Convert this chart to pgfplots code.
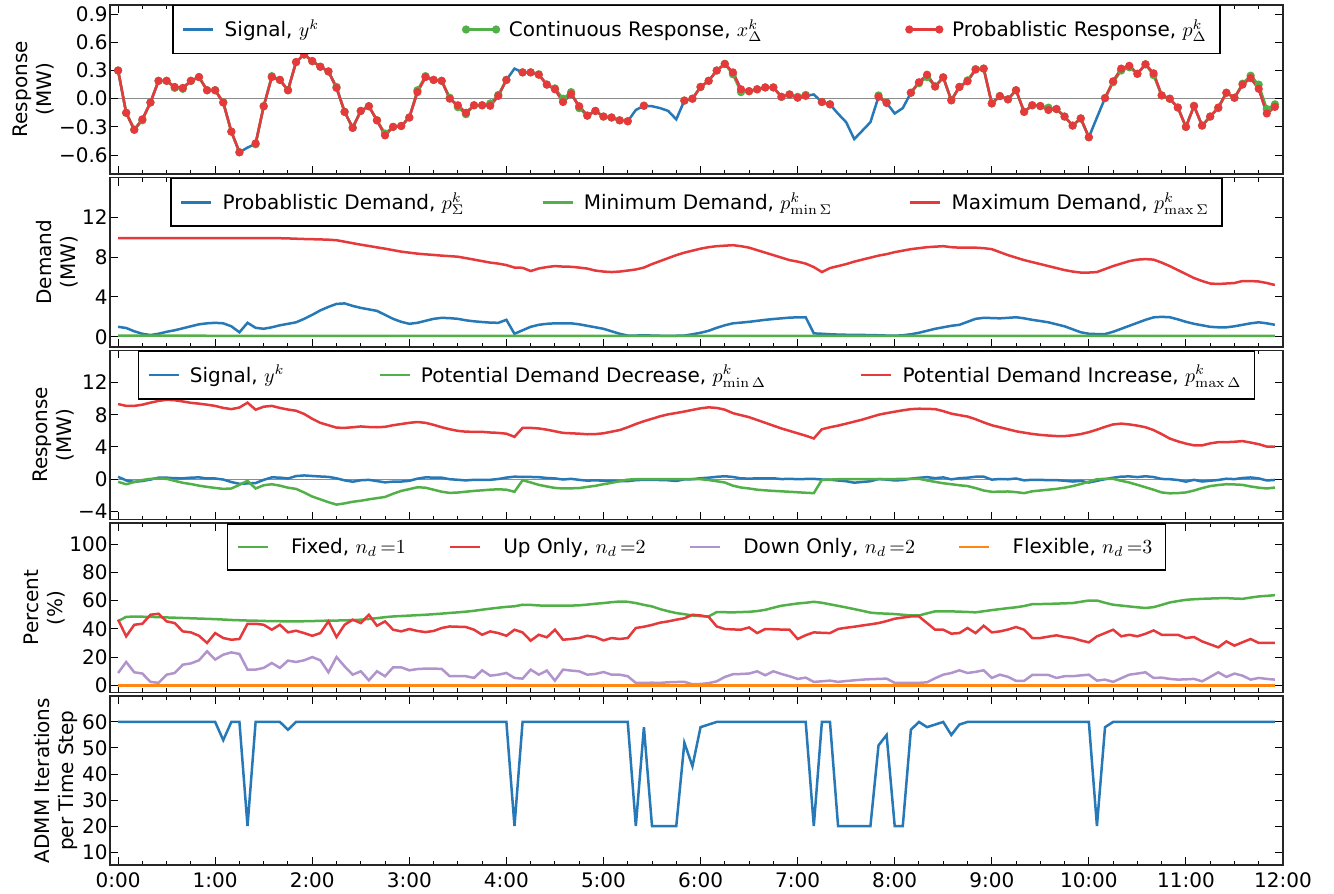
\documentclass[border=0pt]{standalone}
\usepackage[no-math]{fontspec}
\setmainfont{DejaVu Sans}
\usepackage{pgfplots}
\usepackage{pgfplotstable}
\pgfplotsset{compat=1.18}
\definecolor{cblue}{RGB}{38,120,182}
\definecolor{cgreen}{RGB}{82,176,72}
\definecolor{cred}{RGB}{229,57,59}
\definecolor{cpurple}{RGB}{178,148,205}
\definecolor{corange}{RGB}{255,135,20}

\pgfplotstableread{
k sig cont prob
0 0.30 0.30 0.30
1 -0.15 -0.15 -0.15
2 -0.33 -0.33 -0.33
3 -0.22 -0.23 -0.22
4 -0.04 -0.04 -0.04
5 0.19 0.19 0.19
6 0.19 0.19 0.19
7 0.125 0.115 0.125
8 0.115 0.105 0.115
9 0.19 0.19 0.19
10 0.23 0.23 0.23
11 0.09 0.09 0.09
12 0.09 0.09 0.09
13 -0.04 -0.04 -0.04
14 -0.35 -0.35 -0.35
15 -0.57 -0.57 -0.57
16 -0.52 nan nan
17 -0.48 -0.485 -0.475
18 -0.08 -0.08 -0.08
19 0.23 0.24 0.23
20 0.20 0.20 0.20
21 0.09 0.09 0.09
22 0.39 0.39 0.39
23 0.47 0.47 0.47
24 0.40 0.40 0.40
25 0.34 0.34 0.34
26 0.29 0.29 0.29
27 0.115 0.125 0.115
28 -0.14 -0.14 -0.14
29 -0.31 -0.31 -0.31
30 -0.13 -0.13 -0.13
31 -0.08 -0.08 -0.08
32 -0.23 -0.23 -0.23
33 -0.39 -0.37 -0.39
34 -0.30 -0.30 -0.30
35 -0.29 -0.29 -0.29
36 -0.20 -0.20 -0.20
37 0.07 0.09 0.07
38 0.23 0.24 0.23
39 0.20 0.20 0.20
40 0.19 0.19 0.19
41 0.00 0.01 0.00
42 -0.07 -0.09 -0.07
43 -0.15 -0.165 -0.15
44 -0.07 -0.07 -0.07
45 -0.07 -0.07 -0.07
46 -0.075 -0.05 -0.075
47 0.03 0.04 0.03
48 0.20 0.20 0.20
49 0.32 nan nan
50 0.28 0.28 0.28
51 0.28 0.28 0.28
52 0.255 0.26 0.255
53 0.15 0.15 0.15
54 0.10 0.11 0.10
55 -0.035 0.0 -0.035
56 0.05 0.07 0.05
57 -0.08 -0.10 -0.08
58 -0.18 -0.18 -0.18
59 -0.13 -0.13 -0.13
60 -0.19 -0.19 -0.19
61 -0.20 -0.20 -0.20
62 -0.23 -0.23 -0.23
63 -0.24 -0.24 -0.24
64 -0.12 nan nan
65 -0.075 -0.075 -0.075
66 -0.08 nan nan
67 -0.10 nan nan
68 -0.13 nan nan
69 -0.22 nan nan
70 -0.02 -0.02 -0.02
71 0.00 0.00 0.00
72 0.125 0.125 0.125
73 0.19 0.19 0.19
74 0.30 0.30 0.30
75 0.37 0.37 0.37
76 0.28 0.26 0.28
77 0.10 0.07 0.10
78 0.08 0.08 0.08
79 0.10 0.10 0.10
80 0.12 0.12 0.12
81 0.12 0.12 0.12
82 0.02 0.02 0.02
83 0.045 0.045 0.045
84 0.01 0.02 0.01
85 0.03 0.04 0.03
86 0.045 nan nan
87 -0.035 -0.035 -0.035
88 -0.06 -0.06 -0.06
89 -0.16 nan nan
90 -0.25 nan nan
91 -0.43 nan nan
92 -0.34 nan nan
93 -0.25 nan nan
94 0.02 0.035 0.02
95 -0.045 -0.04 -0.045
96 -0.157 nan nan
97 -0.10 nan nan
98 0.063 0.063 0.063
99 0.175 0.165 0.175
100 0.255 0.23 0.255
101 0.13 0.13 0.13
102 0.227 0.227 0.227
103 -0.017 -0.017 -0.017
104 0.125 0.125 0.125
105 0.185 0.195 0.185
106 0.31 0.315 0.31
107 0.32 0.32 0.32
108 -0.05 -0.05 -0.05
109 0.028 0.028 0.028
110 -0.007 -0.007 -0.007
111 0.09 0.09 0.09
112 -0.14 -0.14 -0.14
113 -0.07 -0.07 -0.07
114 -0.077 -0.08 -0.077
115 -0.12 -0.095 -0.12
116 -0.11 -0.11 -0.11
117 -0.19 -0.19 -0.19
118 -0.286 -0.286 -0.286
119 -0.21 -0.21 -0.21
120 -0.41 -0.41 -0.41
121 -0.20 nan nan
122 0.007 0.007 0.007
123 0.185 0.175 0.185
124 0.32 0.30 0.32
125 0.35 0.335 0.35
126 0.265 0.265 0.265
127 0.366 0.366 0.366
128 0.27 0.25 0.27
129 0.035 0.035 0.035
130 0.0 0.0 0.0
131 -0.094 -0.094 -0.094
132 -0.30 -0.30 -0.30
133 -0.077 -0.077 -0.077
134 -0.286 -0.286 -0.286
135 -0.19 -0.19 -0.19
136 -0.094 -0.10 -0.094
137 0.063 0.063 0.063
138 0.01 0.01 0.01
139 0.15 0.16 0.15
140 0.22 0.245 0.22
141 0.105 0.15 0.105
142 -0.157 -0.11 -0.157
143 -0.087 -0.06 -0.087
}\tabA

\pgfplotstableread{
k pd mind maxd
0 1.00 0.12 9.90
1 0.88 0.12 9.90
2 0.55 0.12 9.90
3 0.30 0.12 9.90
4 0.17 0.12 9.90
5 0.30 0.12 9.90
6 0.50 0.11 9.90
7 0.65 0.11 9.90
8 0.85 0.11 9.90
9 1.05 0.11 9.90
10 1.25 0.11 9.90
11 1.35 0.10 9.90
12 1.40 0.10 9.90
13 1.35 0.10 9.90
14 1.05 0.10 9.90
15 0.45 0.10 9.90
16 1.40 0.10 9.90
17 0.90 0.10 9.90
18 0.80 0.10 9.90
19 0.95 0.10 9.90
20 1.15 0.10 9.90
21 1.30 0.10 9.88
22 1.45 0.10 9.85
23 1.80 0.10 9.82
24 2.20 0.10 9.80
25 2.65 0.10 9.78
26 3.00 0.10 9.75
27 3.30 0.10 9.70
28 3.35 0.10 9.55
29 3.10 0.10 9.40
30 2.90 0.10 9.25
31 2.75 0.10 9.12
32 2.60 0.10 8.98
33 2.20 0.10 8.85
34 1.80 0.10 8.70
35 1.50 0.10 8.55
36 1.30 0.10 8.45
37 1.40 0.10 8.35
38 1.60 0.10 8.28
39 1.80 0.10 8.22
40 1.90 0.10 8.15
41 1.87 0.10 8.10
42 1.80 0.10 8.04
43 1.65 0.10 7.90
44 1.55 0.10 7.75
45 1.48 0.10 7.60
46 1.42 0.10 7.45
47 1.40 0.10 7.35
48 1.70 0.10 7.20
49 0.30 0.10 6.95
50 0.65 0.10 6.93
51 1.00 0.10 6.60
52 1.20 0.10 6.86
53 1.30 0.10 7.00
54 1.35 0.10 7.10
55 1.35 0.10 7.05
56 1.35 0.10 7.03
57 1.25 0.10 6.95
58 1.10 0.10 6.85
59 0.95 0.10 6.65
60 0.80 0.10 6.55
61 0.55 0.10 6.50
62 0.30 0.10 6.55
63 0.12 0.10 6.65
64 0.12 0.10 6.76
65 0.15 0.10 6.95
66 0.12 0.10 7.30
67 0.10 0.10 7.60
68 0.10 0.10 7.90
69 0.10 0.10 8.20
70 0.12 0.10 8.45
71 0.25 0.10 8.65
72 0.40 0.10 8.85
73 0.60 0.10 9.00
74 0.90 0.10 9.10
75 1.15 0.10 9.15
76 1.35 0.10 9.20
77 1.42 0.10 9.10
78 1.50 0.10 8.95
79 1.60 0.10 8.70
80 1.70 0.10 8.45
81 1.78 0.10 8.20
82 1.85 0.10 7.95
83 1.92 0.10 7.70
84 1.95 0.10 7.55
85 1.96 0.10 7.35
86 0.34 0.10 7.00
87 0.30 0.10 6.50
88 0.25 0.10 6.90
89 0.22 0.10 7.10
90 0.20 0.10 7.30
91 0.20 0.10 7.55
92 0.18 0.10 7.75
93 0.17 0.10 7.95
94 0.15 0.10 8.15
95 0.12 0.10 8.30
96 0.10 0.10 8.50
97 0.15 0.10 8.65
98 0.25 0.10 8.80
99 0.40 0.10 8.90
100 0.60 0.10 9.00
101 0.80 0.10 9.05
102 0.95 0.10 9.10
103 1.10 0.10 9.00
104 1.20 0.10 8.95
105 1.50 0.10 8.95
106 1.80 0.10 8.95
107 1.90 0.10 8.90
108 1.88 0.10 8.80
109 1.85 0.10 8.50
110 1.90 0.10 8.20
111 1.96 0.10 7.95
112 1.85 0.10 7.70
113 1.70 0.10 7.50
114 1.58 0.10 7.30
115 1.45 0.10 7.10
116 1.25 0.10 6.90
117 1.05 0.10 6.70
118 0.75 0.10 6.55
119 0.45 0.10 6.45
120 0.30 0.10 6.45
121 0.27 0.10 6.50
122 0.27 0.10 6.80
123 0.50 0.10 7.10
124 0.80 0.10 7.35
125 1.10 0.10 7.60
126 1.40 0.10 7.75
127 1.70 0.10 7.80
128 1.95 0.10 7.75
129 2.00 0.10 7.45
130 1.96 0.10 7.10
131 1.75 0.10 6.70
132 1.50 0.10 6.30
133 1.30 0.10 5.90
134 1.15 0.10 5.60
135 1.00 0.10 5.35
136 0.95 0.10 5.30
137 0.95 0.10 5.35
138 1.05 0.10 5.40
139 1.20 0.10 5.60
140 1.35 0.10 5.60
141 1.45 0.10 5.55
142 1.35 0.10 5.40
143 1.20 0.10 5.20
}\tabB

\pgfplotstableread{
k mnd mxd
0 -0.33 9.33
1 -0.62 9.10
2 -0.35 9.10
3 -0.10 9.25
4 0.05 9.50
5 0.08 9.72
6 0.05 9.86
7 -0.20 9.80
8 -0.45 9.65
9 -0.60 9.48
10 -0.80 9.38
11 -0.95 9.25
12 -1.08 9.10
13 -1.20 8.85
14 -1.15 8.70
15 -0.70 8.90
16 -0.20 9.50
17 -1.15 8.63
18 -0.75 9.00
19 -0.62 9.10
20 -0.80 8.85
21 -1.05 8.65
22 -1.20 8.50
23 -1.65 8.10
24 -2.15 7.50
25 -2.50 7.00
26 -2.85 6.70
27 -3.15 6.40
28 -3.00 6.37
29 -2.80 6.45
30 -2.67 6.55
31 -2.50 6.48
32 -2.35 6.45
33 -2.20 6.50
34 -1.80 6.70
35 -1.45 6.85
36 -1.23 7.00
37 -1.00 7.10
38 -1.05 7.00
39 -1.30 6.75
40 -1.55 6.45
41 -1.70 6.20
42 -1.65 6.00
43 -1.55 5.90
44 -1.45 5.88
45 -1.38 5.88
46 -1.30 5.80
47 -1.25 5.75
48 -1.30 5.65
49 -1.56 5.26
50 -0.12 6.37
51 -0.40 6.37
52 -0.70 6.30
53 -0.90 6.15
54 -1.08 5.95
55 -1.15 5.75
56 -1.13 5.70
57 -1.10 5.65
58 -0.95 5.58
59 -0.82 5.60
60 -0.62 5.70
61 -0.45 5.90
62 -0.25 6.10
63 -0.05 6.45
64 0.00 6.85
65 0.00 7.20
66 0.00 7.50
67 0.00 7.81
68 0.00 8.05
69 0.00 8.22
70 0.00 8.40
71 0.00 8.60
72 0.00 8.80
73 -0.10 8.92
74 -0.25 8.85
75 -0.41 8.63
76 -0.80 8.20
77 -1.03 7.95
78 -1.15 7.70
79 -1.30 7.35
80 -1.38 7.00
81 -1.45 6.65
82 -1.50 6.30
83 -1.56 6.00
84 -1.62 5.70
85 -1.68 5.40
86 -1.73 5.06
87 -0.08 6.20
88 -0.05 6.45
89 0.00 6.65
90 0.00 6.90
91 0.00 7.15
92 0.00 7.40
93 0.00 7.70
94 0.00 8.00
95 0.00 8.20
96 0.02 8.38
97 0.05 8.55
98 0.05 8.70
99 0.05 8.75
100 -0.15 8.73
101 -0.33 8.70
102 -0.50 8.45
103 -0.62 8.14
104 -0.75 7.95
105 -0.85 7.78
106 -1.10 7.45
107 -1.40 7.05
108 -1.56 6.70
109 -1.55 6.45
110 -1.52 6.20
111 -1.60 5.95
112 -1.73 5.78
113 -1.50 5.62
114 -1.40 5.50
115 -1.30 5.42
116 -1.20 5.36
117 -1.05 5.35
118 -0.85 5.45
119 -0.60 5.60
120 -0.30 5.84
121 0.00 6.15
122 0.05 6.50
123 0.05 6.80
124 -0.20 6.90
125 -0.41 6.80
126 -0.70 6.65
127 -1.00 6.45
128 -1.30 6.10
129 -1.64 5.60
130 -1.75 5.05
131 -1.72 4.70
132 -1.64 4.42
133 -1.40 4.20
134 -1.10 4.20
135 -0.85 4.45
136 -0.72 4.60
137 -0.62 4.60
138 -0.65 4.65
139 -0.70 4.73
140 -0.90 4.55
141 -1.05 4.35
142 -1.15 4.05
143 -1.03 4.03
}\tabC

\pgfplotstableread{
k fix up down flex
0 45.5 46.5 8.7 0
1 48.5 34.7 16.5 0
2 48.7 42.9 9.2 0
3 48.6 43.6 8.3 0
4 48.5 50.0 2.4 0
5 48.3 50.7 1.7 0
6 48.1 45.3 7.5 0
7 47.9 44.1 8.7 0
8 47.7 38.2 14.6 0
9 47.5 37.5 15.5 0
10 47.3 35.1 17.7 0
11 47.1 30.0 24.1 0
12 46.9 37.0 18.2 0
13 46.6 33.5 21.7 0
14 46.3 32.3 23.3 0
15 46.1 32.8 22.2 0
16 45.9 43.6 11.1 0
17 45.8 43.6 11.1 0
18 45.6 42.9 12.3 0
19 45.5 39.4 15.8 0
20 45.4 42.9 12.3 0
21 45.3 37.5 17.5 0
22 45.3 38.7 16.5 0
23 45.4 37.0 17.7 0
24 45.5 35.1 20.0 0
25 45.7 37.0 17.7 0
26 45.8 45.3 9.2 0
27 45.9 34.2 20.0 0
28 46.0 42.9 13.4 0
29 46.2 46.5 7.5 0
30 46.5 44.1 9.9 0
31 47.0 50.0 3.5 0
32 47.6 42.2 9.9 0
33 48.3 45.3 6.4 0
34 48.8 39.4 12.7 0
35 49.1 38.2 12.7 0
36 49.4 39.9 10.6 0
37 49.7 38.5 11.5 0
38 50.0 37.7 11.8 0
39 50.4 38.5 11.8 0
40 50.8 40.6 11.6 0
41 51.3 41.7 6.4 0
42 51.7 41.5 6.4 0
43 52.2 41.3 6.4 0
44 52.8 39.4 5.2 0
45 53.6 35.8 10.6 0
46 54.3 38.2 6.8 0
47 55.0 37.0 7.5 0
48 55.6 35.1 8.7 0
49 56.0 39.4 5.2 0
50 57.1 37.5 4.7 0
51 57.0 31.6 11.1 0
52 56.6 35.8 7.5 0
53 56.4 34.0 10.4 0
54 56.4 39.4 3.3 0
55 56.4 32.3 11.1 0
56 56.5 32.8 10.4 0
57 56.7 33.5 9.9 0
58 57.2 35.1 7.5 0
59 57.8 34.2 8.0 0
60 58.3 31.8 9.4 0
61 58.9 33.5 7.5 0
62 59.4 32.8 7.5 0
63 59.2 33.5 6.4 0
64 58.3 40.6 1.7 0
65 57.0 41.5 1.7 0
66 55.9 42.8 1.8 0
67 54.0 44.4 1.7 0
68 52.5 45.3 2.1 0
69 51.2 46.5 2.3 0
70 50.4 47.5 2.4 0
71 49.5 50.0 0.7 0
72 49.0 49.5 0.9 0
73 48.8 48.5 1.5 0
74 51.9 41.7 2.8 0
75 51.8 39.9 5.9 0
76 51.7 39.6 7.8 0
77 51.9 39.4 8.0 0
78 52.1 41.0 8.3 0
79 52.6 37.0 9.9 0
80 53.5 39.9 7.1 0
81 55.0 39.7 9.9 0
82 56.4 39.5 8.0 0
83 57.2 39.4 6.4 0
84 58.0 32.8 4.5 0
85 58.5 35.5 5.4 0
86 59.2 37.5 2.4 0
87 58.5 37.2 2.8 0
88 57.4 37.0 3.3 0
89 56.3 39.9 2.4 0
90 55.2 40.8 3.0 0
91 54.0 41.5 3.5 0
92 52.8 42.4 4.0 0
93 51.5 43.2 4.3 0
94 51.0 44.1 4.5 0
95 50.8 45.5 4.7 0
96 50.5 47.2 1.7 0
97 50.0 48.0 1.7 0
98 49.5 48.8 1.7 0
99 49.5 48.8 1.7 0
100 51.0 44.1 2.1 0
101 52.4 39.4 5.0 0
102 52.4 39.4 7.5 0
103 52.4 36.6 8.7 0
104 52.2 37.0 10.6 0
105 52.0 40.6 8.7 0
106 51.7 37.0 9.5 0
107 52.5 42.2 10.6 0
108 53.3 37.5 5.2 0
109 54.0 38.2 7.5 0
110 54.7 39.5 6.0 0
111 55.3 41.3 3.1 0
112 56.2 39.4 3.1 0
113 57.5 33.5 7.3 0
114 57.6 33.5 7.3 0
115 57.7 34.5 7.3 0
116 57.9 35.4 5.2 0
117 58.1 34.2 6.4 0
118 58.3 33.5 6.4 0
119 59.2 31.8 7.0 0
120 60.1 30.4 7.5 0
121 60.1 34.7 3.3 0
122 58.5 37.0 4.0 0
123 57.1 39.4 2.4 0
124 56.5 34.7 5.0 0
125 55.9 35.8 7.5 0
126 55.3 34.7 8.3 0
127 54.8 36.5 9.2 0
128 55.4 38.9 5.2 0
129 57.0 35.8 5.4 0
130 58.7 35.8 4.5 0
131 59.7 35.8 4.0 0
132 60.6 33.5 4.2 0
133 61.0 34.2 4.5 0
134 61.3 31.1 2.8 0
135 61.5 29.0 5.9 0
136 61.7 26.9 9.2 0
137 61.8 31.1 5.9 0
138 61.5 28.1 8.3 0
139 61.3 30.5 6.8 0
140 62.2 32.8 4.0 0
141 63.0 30.0 5.2 0
142 63.4 30.0 4.5 0
143 63.9 30.0 4.0 0
}\tabD

\pgfplotstableread{
k adm
0 60
12 60
13 53
14 60
15 60
16 20
17 60
20 60
21 57
22 60
48 60
49 20
50 60
63 60
64 20
65 58
66 20
69 20
70 52
71 43
72 58
73 59
74 60
85 60
86 20
87 60
88 60
89 20
93 20
94 51
95 55
96 20
97 20
98 57
99 60
100 58
101 59
102 60
103 55
104 59
105 60
120 60
121 20
122 58
123 60
143 60
}\tabE

\pgfplotsset{
  panel/.style={
    scale only axis, width=586.5pt, height=84.6pt,
    anchor=north west,
    xmin=-0.08333, xmax=12,
    xtick={0,1,...,12}, minor x tick num=3,
    xticklabels={},
    tick align=inside, xtick pos=both, ytick pos=both,
    major tick length=4pt, minor tick length=2pt,
    every tick/.append style={black, line width=0.5pt},
    axis line style={line width=0.8pt, black!85},
    yticklabel style={inner xsep=1pt},
    ylabel style={align=center, inner sep=1pt},
    unbounded coords=jump,
    legend style={at={(0.5,1)}, anchor=north, draw=black, line width=0.8pt,
      inner xsep=4.5pt, inner ysep=5pt, fill=white,
      nodes={inner sep=2pt}},
    legend image code/.code={\draw[#1] plot coordinates {(0pt,0pt) (15pt,0pt)};},
  },
  every axis plot/.append style={line width=1.25pt},
}

\begin{document}
\begin{tikzpicture}
\useasboundingbox (0,0) rectangle (667pt,-447pt);

% Panel 1
\begin{axis}[panel, at={(55pt,-2.35pt)},
  ymin=-0.8, ymax=1.0,
  ytick={-0.6,-0.3,0,0.3,0.6,0.9},
  yticklabels={−0.6,−0.3,0.0,0.3,0.6,0.9},
  ylabel={Response\\(MW)},
  legend columns=3,
  legend style={/tikz/every even column/.append style={column sep=70pt}}]
\addplot[forget plot, black!45, line width=0.7pt] coordinates {(0,0) (11.917,0)};
\addplot[cblue] table[x expr=\thisrow{k}/12, y=sig] {\tabA};
\addlegendentry{\hspace{3pt}Signal, $y^k$}
\addplot[cgreen, mark=*, mark size=1.4pt] table[x expr=\thisrow{k}/12, y=cont] {\tabA};
\addlegendentry{\hspace{3pt}Continuous Response, $x^k_\Delta$}
\addplot[cred, mark=*, mark size=1.4pt] table[x expr=\thisrow{k}/12, y=prob] {\tabA};
\addlegendentry{\hspace{3pt}Probablistic Response, $p^k_\Delta$}
\end{axis}

% Panel 2
\begin{axis}[panel, at={(55pt,-88.75pt)},
  ymin=-1, ymax=16,
  ytick={0,4,8,12},
  yticklabels={0,4,8,12},
  ylabel={Demand\\(MW)},
  legend columns=3,
  legend style={/tikz/every even column/.append style={column sep=36.5pt}}]
\addplot[cblue] table[x expr=\thisrow{k}/12, y=pd] {\tabB};
\addlegendentry{\hspace{3pt}Probablistic Demand, $p^k_\Sigma$}
\addplot[cgreen] table[x expr=\thisrow{k}/12, y=mind] {\tabB};
\addlegendentry{\hspace{3pt}Minimum Demand, $p^k_{\min\Sigma}$}
\addplot[cred] table[x expr=\thisrow{k}/12, y=maxd] {\tabB};
\addlegendentry{\hspace{3pt}Maximum Demand, $p^k_{\max\Sigma}$}
\end{axis}

% Panel 3
\begin{axis}[panel, at={(55pt,-175.15pt)},
  ymin=-5, ymax=16,
  ytick={-4,0,4,8,12},
  yticklabels={−4,0,4,8,12},
  ylabel={Response\\(MW)},
  legend columns=3,
  legend style={/tikz/every even column/.append style={column sep=45pt}}]
\addplot[forget plot, black!45, line width=0.7pt] coordinates {(0,0) (11.917,0)};
\addplot[cblue] table[x expr=\thisrow{k}/12, y=sig] {\tabA};
\addlegendentry{\hspace{3pt}Signal, $y^k$}
\addplot[cgreen] table[x expr=\thisrow{k}/12, y=mnd] {\tabC};
\addlegendentry{\hspace{3pt}Potential Demand Decrease, $p^k_{\min\Delta}$}
\addplot[cred] table[x expr=\thisrow{k}/12, y=mxd] {\tabC};
\addlegendentry{\hspace{3pt}Potential Demand Increase, $p^k_{\max\Delta}$}
\end{axis}

% Panel 4
\begin{axis}[panel, at={(55pt,-261.55pt)},
  ymin=-5, ymax=115,
  ytick={0,20,40,60,80,100},
  yticklabels={0,20,40,60,80,100},
  ylabel={Percent\\(\%)},
  legend columns=4,
  legend style={/tikz/every even column/.append style={column sep=19.5pt}}]
\addplot[cgreen] table[x expr=\thisrow{k}/12, y=fix] {\tabD};
\addlegendentry{\hspace{9pt}Fixed, $n_d\,{=}1$}
\addplot[cred] table[x expr=\thisrow{k}/12, y=up] {\tabD};
\addlegendentry{\hspace{9pt}Up Only, $n_d\,{=}2$}
\addplot[cpurple] table[x expr=\thisrow{k}/12, y=down] {\tabD};
\addlegendentry{\hspace{9pt}Down Only, $n_d\,{=}2$}
\addplot[corange] table[x expr=\thisrow{k}/12, y=flex] {\tabD};
\addlegendentry{\hspace{9pt}Flexible, $n_d\,{=}3$}
\end{axis}

% Panel 5
\begin{axis}[panel, at={(55pt,-347.95pt)},
  ymin=5, ymax=70,
  ytick={10,20,30,40,50,60},
  yticklabels={10,20,30,40,50,60},
  ylabel={ADMM Iterations\\per Time Step},
  xticklabels={0:00,1:00,2:00,3:00,4:00,5:00,6:00,7:00,8:00,9:00,10:00,11:00,12:00}]
\addplot[cblue] table[x expr=\thisrow{k}/12, y=adm] {\tabE};
\end{axis}
\end{tikzpicture}
\end{document}
